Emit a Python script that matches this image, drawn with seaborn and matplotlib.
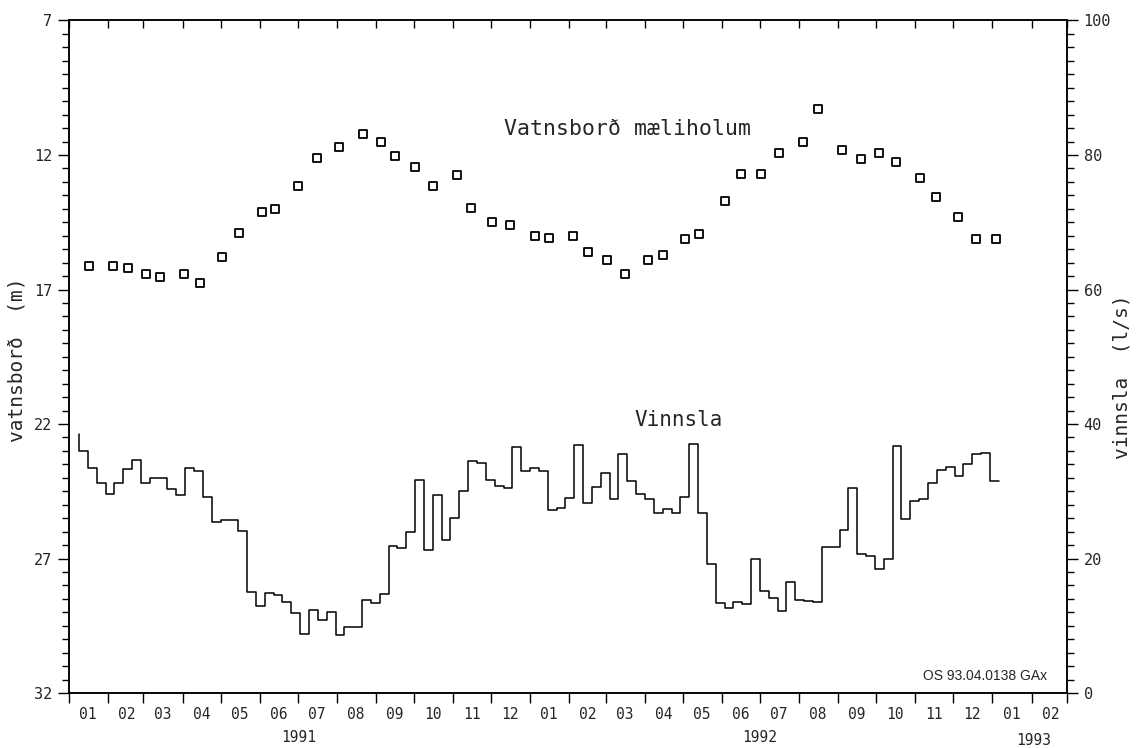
import pandas as pd
import seaborn as sns
import matplotlib.pyplot as plt
import matplotlib.dates as mdates
from matplotlib.ticker import MultipleLocator

# Vatnsborð í mæliholum (m), lesið af mynd
level_dates = ["1991-01-17", "1991-02-05", "1991-02-17", "1991-03-03", "1991-03-14",
               "1991-04-02", "1991-04-15", "1991-05-02", "1991-05-16", "1991-06-03",
               "1991-06-13", "1991-07-01", "1991-07-16", "1991-08-03", "1991-08-22",
               "1991-09-05", "1991-09-16", "1991-10-02", "1991-10-16", "1991-11-04",
               "1991-11-15", "1991-12-02", "1991-12-16", "1992-01-05", "1992-01-16",
               "1992-02-04", "1992-02-16", "1992-03-02", "1992-03-16", "1992-04-03",
               "1992-04-15", "1992-05-03", "1992-05-14", "1992-06-03", "1992-06-16",
               "1992-07-02", "1992-07-16", "1992-08-04", "1992-08-16", "1992-09-04",
               "1992-09-19", "1992-10-03", "1992-10-17", "1992-11-05", "1992-11-17",
               "1992-12-05", "1992-12-19", "1993-01-04"]
level_m = [16.13, 16.12, 16.21, 16.43, 16.55, 16.43, 16.77, 15.79, 14.91, 14.12,
           14.02, 13.14, 12.10, 11.70, 11.21, 11.52, 12.03, 12.43, 13.15, 12.75,
           13.96, 14.49, 14.59, 15.00, 15.09, 15.00, 15.61, 15.91, 16.41, 15.91,
           15.72, 15.13, 14.92, 13.72, 12.72, 12.72, 11.91, 11.52, 10.30, 11.83,
           12.14, 11.94, 12.25, 12.87, 13.57, 14.29, 15.12, 15.12]

# Vinnsla (l/s), vikugildi
pump_start = "1991-01-09"
pump_ls = [38.5, 36.0, 33.5, 31.3, 29.6, 31.3, 33.3, 34.6, 31.2, 32.0,
           32.0, 30.3, 29.5, 33.5, 33.0, 29.1, 25.5, 25.8, 25.8, 24.1,
           15.0, 13.0, 14.8, 14.6, 13.6, 11.9, 8.8, 12.3, 10.9, 12.0,
           8.6, 9.8, 9.8, 13.8, 13.4, 14.7, 21.8, 21.6, 24.0, 31.7,
           21.3, 29.5, 22.7, 26.0, 30.1, 34.5, 34.2, 31.7, 30.8, 30.5,
           36.6, 33.0, 33.4, 33.0, 27.2, 27.5, 29.0, 36.9, 28.2, 30.6,
           32.7, 28.8, 35.6, 31.6, 29.6, 28.9, 26.7, 27.3, 26.7, 29.2,
           37.0, 26.8, 19.2, 13.4, 12.7, 13.6, 13.3, 20.0, 15.2, 14.1,
           12.2, 16.5, 13.9, 13.7, 13.5, 21.7, 21.7, 24.3, 30.5, 20.7,
           20.4, 18.4, 20.0, 36.7, 25.9, 28.6, 28.8, 31.3, 33.2, 33.6,
           32.2, 34.1, 35.5, 35.7, 31.5]

left_ticks = [7, 12, 17, 22, 27, 32]
right_ticks = [0, 20, 40, 60, 80, 100]
year_labels = ["1991", "1992", "1993"]
year_pos = ["1991-07-02", "1992-07-01", "1993-02-03"]

levels = pd.DataFrame({"dags": pd.to_datetime(level_dates), "vatnsbord": level_m})
pump = pd.DataFrame({"dags": pd.date_range(pump_start, periods=len(pump_ls), freq="7D"),
                     "vinnsla": pump_ls})

sns.set_theme(style="ticks")
plt.rcParams["font.family"] = ["DejaVu Sans Mono", "DejaVu Sans"]

fig = plt.figure(figsize=(11.36, 7.48), dpi=100)
ax = fig.add_axes([0.0607, 0.0735, 0.8785, 0.8991])
ax2 = ax.twinx()

sns.scatterplot(data=levels, x="dags", y="vatnsbord", ax=ax, marker="s", s=34,
                facecolor="white", edgecolor="black", linewidth=1.3, zorder=3)
sns.lineplot(data=pump, x="dags", y="vinnsla", ax=ax2, drawstyle="steps-pre",
             color="black", linewidth=1.1, estimator=None)

ax.set_xlim(pd.Timestamp("1991-01-01"), pd.Timestamp("1993-03-01"))
ax.set_ylim(32, 7)
ax2.set_ylim(0, 100)

# y-ásar
ax.set_yticks(left_ticks)
ax.yaxis.set_minor_locator(MultipleLocator(0.5))
ax.tick_params(axis="y", which="major", length=8, width=1, labelsize=11, pad=4, color="black")
ax.tick_params(axis="y", which="minor", length=5, width=1, color="black")
ax2.set_yticks(right_ticks)
ax2.yaxis.set_minor_locator(MultipleLocator(2))
ax2.tick_params(axis="y", which="major", length=8, width=1, labelsize=11, pad=4, color="black")
ax2.tick_params(axis="y", which="minor", length=5, width=1, color="black")

# x-ás: mánuðir
ax.xaxis.set_major_locator(mdates.MonthLocator())
ax.xaxis.set_major_formatter(plt.NullFormatter())
ax.xaxis.set_minor_locator(mdates.MonthLocator(bymonthday=16))
ax.xaxis.set_minor_formatter(mdates.DateFormatter("%m"))
ax.tick_params(axis="x", which="major", length=7, width=1, direction="out", color="black")
ax.tick_params(axis="x", which="minor", length=0, labelsize=10.5, pad=10)

ax2.xaxis.set_visible(True)
ax2.tick_params(axis="x", which="both", bottom=False, labelbottom=False,
                top=True, labeltop=False, direction="in")
ax2.tick_params(axis="x", which="major", length=6, width=1, color="black")
ax2.tick_params(axis="x", which="minor", length=0)

for lab, d in zip(year_labels, year_pos):
    yy = -0.0705 if lab == "1993" else -0.066
    ax.text(mdates.date2num(pd.Timestamp(d)), yy, lab, transform=ax.get_xaxis_transform(),
            ha="center", va="center", fontsize=10.5)

ax.set_xlabel("")
ax2.set_xlabel("")
ax.set_ylabel("vatnsborð  (m)", fontsize=14)
ax.yaxis.set_label_coords(-0.043, 0.495)
ax2.set_ylabel("vinnsla  (l/s)", fontsize=14, rotation=90)
ax2.yaxis.set_label_coords(1.046, 0.47)

for a in (ax, ax2):
    for sp in a.spines.values():
        sp.set_color("black")
        sp.set_linewidth(1.1)

ax.text(0.56, 0.838, "Vatnsborð mæliholum", transform=ax.transAxes,
        ha="center", va="center", fontsize=15.5)
ax.text(0.611, 0.406, "Vinnsla", transform=ax.transAxes,
        ha="center", va="center", fontsize=15)
ax.text(0.98, 0.015, "OS 93.04.0138 GAx", transform=ax.transAxes, ha="right", va="bottom",
        fontsize=10, family=["Liberation Sans", "DejaVu Sans"])

fig.savefig("out.png", dpi=100)
